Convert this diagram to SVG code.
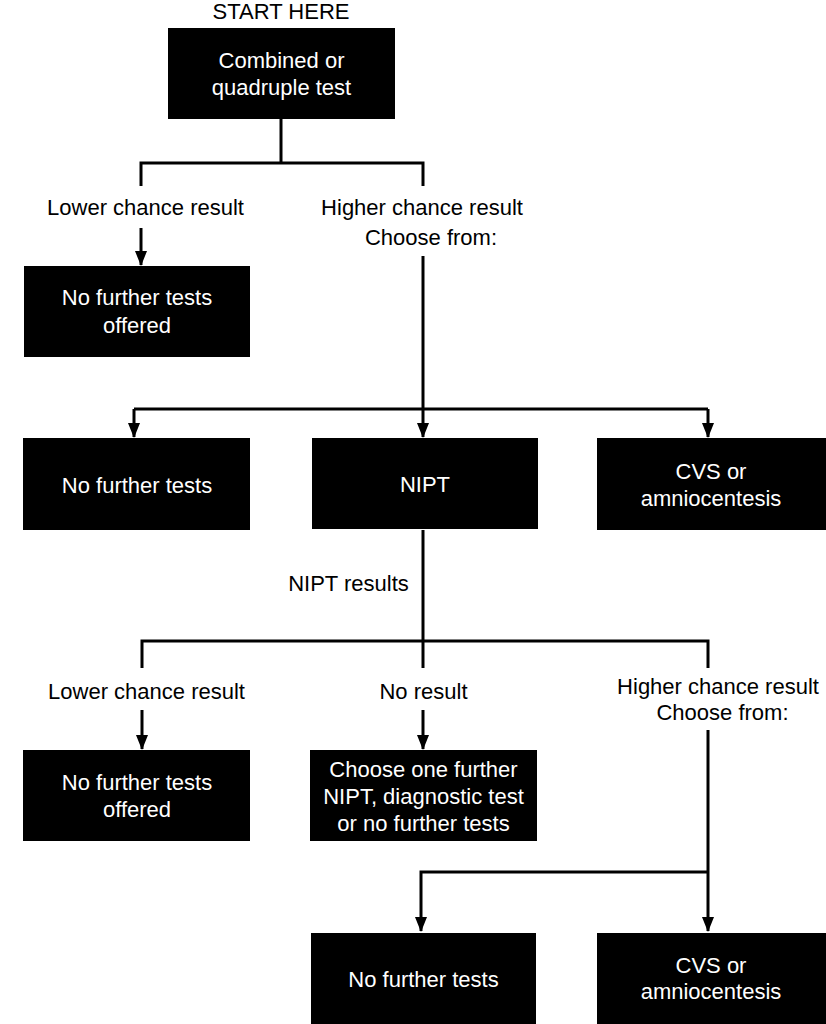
<svg xmlns="http://www.w3.org/2000/svg" width="826" height="1024" viewBox="0 0 826 1024">
<style>
  text { font-family: "Liberation Sans", Arial, sans-serif; font-size: 22px; text-anchor: middle; }
  .lbl { fill: #000; }
  .box rect { fill: #000; }
  .box text { fill: #fff; }
  .conn path { fill: none; stroke: #000; stroke-width: 3; }
  .arr { marker-end: url(#ah); }
</style>
<defs>
  <marker id="ah" markerUnits="userSpaceOnUse" markerWidth="15" markerHeight="12" refX="14" refY="6" orient="auto" viewBox="0 0 15 12">
    <path d="M0,0 L15,6 L0,12 z" fill="#000"/>
  </marker>
</defs>
<rect width="826" height="1024" fill="#fff"/>

<g id="labels">
  <text class="lbl" x="281" y="19">START HERE</text>
  <text class="lbl" x="145.5" y="215">Lower chance result</text>
  <text class="lbl" x="422" y="215">Higher chance result</text>
  <text class="lbl" x="431" y="245">Choose from:</text>
  <text class="lbl" x="348.5" y="591">NIPT results</text>
  <text class="lbl" x="146.5" y="699">Lower chance result</text>
  <text class="lbl" x="423.5" y="699">No result</text>
  <text class="lbl" x="718" y="694">Higher chance result</text>
  <text class="lbl" x="722.5" y="720">Choose from:</text>
</g>

<g id="connectors" class="conn">
  <path d="M281,119 V163"/>
  <path d="M141,186 V163 H423 V186"/>
  <path class="arr" d="M141,228 V265"/>
  <path class="arr" d="M423,256 V437"/>
  <path d="M134,409 H708"/>
  <path class="arr" d="M134,409 V437"/>
  <path class="arr" d="M708,409 V437"/>
  <path d="M423,530 V668"/>
  <path d="M142,668 V641 H708 V668"/>
  <path class="arr" d="M142,710 V749"/>
  <path class="arr" d="M423,710 V749"/>
  <path class="arr" d="M708,730 V931"/>
  <path class="arr" d="M708,872 H421 V931"/>
</g>

<g id="n-combined" class="box">
  <rect x="168" y="28" width="227" height="91"/>
  <text x="281.5" y="68">Combined or</text>
  <text x="281.5" y="95">quadruple test</text>
</g>

<g id="n-nofurther-offered-1" class="box">
  <rect x="24" y="266" width="226" height="91"/>
  <text x="137" y="305">No further tests</text>
  <text x="137" y="333">offered</text>
</g>

<g id="n-nofurther-1" class="box">
  <rect x="23" y="438" width="227" height="92"/>
  <text x="137" y="493">No further tests</text>
</g>

<g id="n-nipt" class="box">
  <rect x="312" y="438" width="226" height="91"/>
  <text x="425" y="492">NIPT</text>
</g>

<g id="n-cvs-1" class="box">
  <rect x="597" y="438" width="229" height="92"/>
  <text x="711" y="479">CVS or</text>
  <text x="711" y="506">amniocentesis</text>
</g>

<g id="n-nofurther-offered-2" class="box">
  <rect x="23" y="750" width="227" height="91"/>
  <text x="137" y="790">No further tests</text>
  <text x="137" y="817">offered</text>
</g>

<g id="n-choose-one" class="box">
  <rect x="310" y="750" width="227" height="91"/>
  <text x="423.5" y="777">Choose one further</text>
  <text x="423.5" y="804">NIPT, diagnostic test</text>
  <text x="423.5" y="831">or no further tests</text>
</g>

<g id="n-nofurther-2" class="box">
  <rect x="311" y="933" width="225" height="91"/>
  <text x="423.5" y="987">No further tests</text>
</g>

<g id="n-cvs-2" class="box">
  <rect x="597" y="933" width="229" height="91"/>
  <text x="711" y="973">CVS or</text>
  <text x="711" y="999">amniocentesis</text>
</g>
</svg>
